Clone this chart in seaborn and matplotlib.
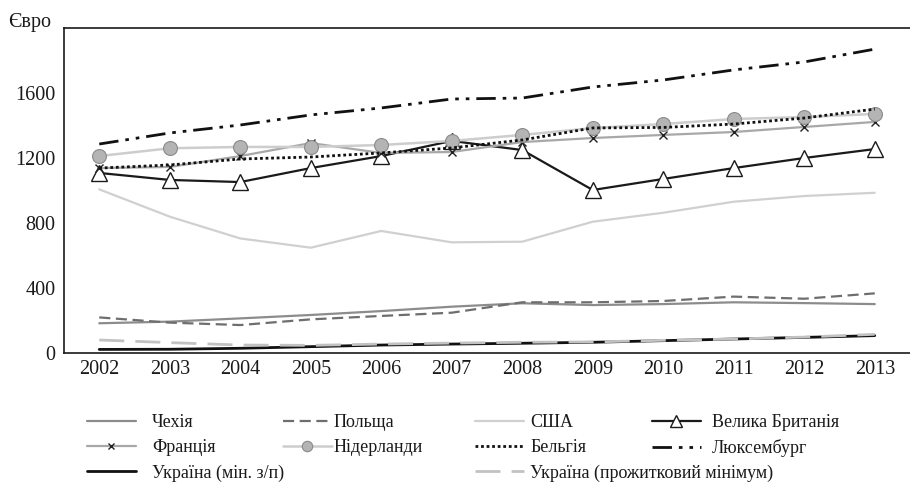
import numpy as np
import pandas as pd
import matplotlib
matplotlib.use("Agg")
import matplotlib.pyplot as plt
from matplotlib.ticker import FixedLocator
import seaborn as sns

# дані (євро)
роки = list(range(2002, 2014))
чехія = [183, 193, 213, 234, 258, 285, 306, 295, 301, 312, 307, 301]
польща = [219, 187, 172, 207, 228, 248, 312, 312, 320, 347, 334, 367]
сша = [1007, 839, 705, 648, 751, 681, 685, 808, 863, 931, 966, 986]
британія = [1108, 1065, 1052, 1138, 1212, 1305, 1249, 1003, 1071, 1138, 1200, 1255]
франція = [1138, 1145, 1212, 1292, 1231, 1237, 1298, 1323, 1342, 1360, 1391, 1422]
нідерланди = [1212, 1260, 1268, 1268, 1280, 1305, 1342, 1384, 1409, 1440, 1452, 1471]
бельгія = [1138, 1157, 1194, 1206, 1231, 1262, 1311, 1385, 1388, 1409, 1446, 1501]
люксембург = [1286, 1354, 1403, 1465, 1508, 1563, 1569, 1637, 1680, 1742, 1791, 1870]
україна_мзп = [22, 23, 29, 39, 49, 55, 60, 66, 76, 86, 96, 107]
україна_пм = [80, 64, 49, 47, 55, 61, 66, 68, 78, 86, 98, 115]

sns.set_style("white")
plt.rcParams['font.family'] = ['Liberation Serif', 'DejaVu Serif']

fig = plt.figure(figsize=(9.1, 4.88), dpi=100)
ax = fig.add_axes([64 / 910, 1 - 353 / 488, 1 - 64 / 910, 325 / 488])

серії = [
    ("Чехія", чехія, dict(color="#8c8c8c", lw=1.6)),
    ("Польща", польща, dict(color="#6e6e6e", lw=1.6, dashes=(5, 2.5))),
    ("США", сша, dict(color="#d0d0d0", lw=1.6)),
    ("Велика Британія", британія, dict(color="#1a1a1a", lw=1.6, marker="^", markersize=12,
                                       markerfacecolor="white", markeredgecolor="#1a1a1a",
                                       markeredgewidth=1.0)),
    ("Франція", франція, dict(color="#a8a8a8", lw=1.6, marker="x", markersize=6,
                              markeredgecolor="#222222", markeredgewidth=1.0)),
    ("Нідерланди", нідерланди, dict(color="#cdcdcd", lw=1.8, marker="o", markersize=10,
                                    markerfacecolor="#b4b4b4", markeredgecolor="#8a8a8a",
                                    markeredgewidth=0.8)),
    ("Бельгія", бельгія, dict(color="#111111", lw=2.0, dashes=(1, 1))),
    ("Люксембург", люксембург, dict(color="#111111", lw=2.0, dashes=(7, 2.5, 1.3, 2.5, 1.3, 2.5))),
    ("Україна (мін. з/п)", україна_мзп, dict(color="#111111", lw=2.0)),
    ("Україна (прожитковий мінімум)", україна_пм, dict(color="#c2c2c2", lw=2.0, dashes=(9, 4))),
]

лінії = {}
for назва, значення, стиль in серії:
    sns.lineplot(x=роки, y=значення, ax=ax, label=назва, legend=False, **стиль)
    лінії[назва] = ax.get_lines()[-1]

ax.set_xlim(2001.5, 2013.5)
ax.set_ylim(0, 2000)
ax.set_xticks(роки)
ax.xaxis.set_minor_locator(FixedLocator([r + 0.5 for r in роки[:-1]]))
ax.set_yticks([0, 400, 800, 1200, 1600])
ax.tick_params(axis="x", which="major", length=0, pad=5, labelsize=14.5, colors="#1a1a1a")
ax.tick_params(axis="x", which="minor", length=5, direction="in", width=1, color="#1a1a1a")
ax.tick_params(axis="y", length=0, pad=6, labelsize=14.5, colors="#1a1a1a")
ax.set_xlabel("")
ax.set_ylabel("")
for s in ["left", "bottom", "top"]:
    ax.spines[s].set_color("#1a1a1a")
    ax.spines[s].set_linewidth(1.2)
ax.spines["right"].set_visible(False)

fig.text(8 / 910, 1 - 22 / 488, "Євро", fontsize=14.5, va="center", ha="left", color="#1a1a1a")

# легенда: чотири колонки
колонки = [
    (87, ["Чехія", "Франція", "Україна (мін. з/п)"], 0.9),
    (283, ["Польща", "Нідерланди"], 0.1),
    (475, ["США", "Бельгія", "Україна (прожитковий мінімум)"], 0.35),
    (652, ["Велика Британія", "Люксембург"], 0.6),
]
for x0, назви, pad in колонки:
    leg = fig.legend([лінії[n] for n in назви], назви, loc="upper left",
                     bbox_to_anchor=(x0 / 910, 1 - 414 / 488), frameon=False,
                     borderpad=0, borderaxespad=0, handlelength=2.7, handletextpad=pad,
                     labelspacing=0.45, fontsize=13, markerscale=0.75)
    for t in leg.get_texts():
        t.set_color("#1a1a1a")

fig.savefig("out.png", dpi=100)
